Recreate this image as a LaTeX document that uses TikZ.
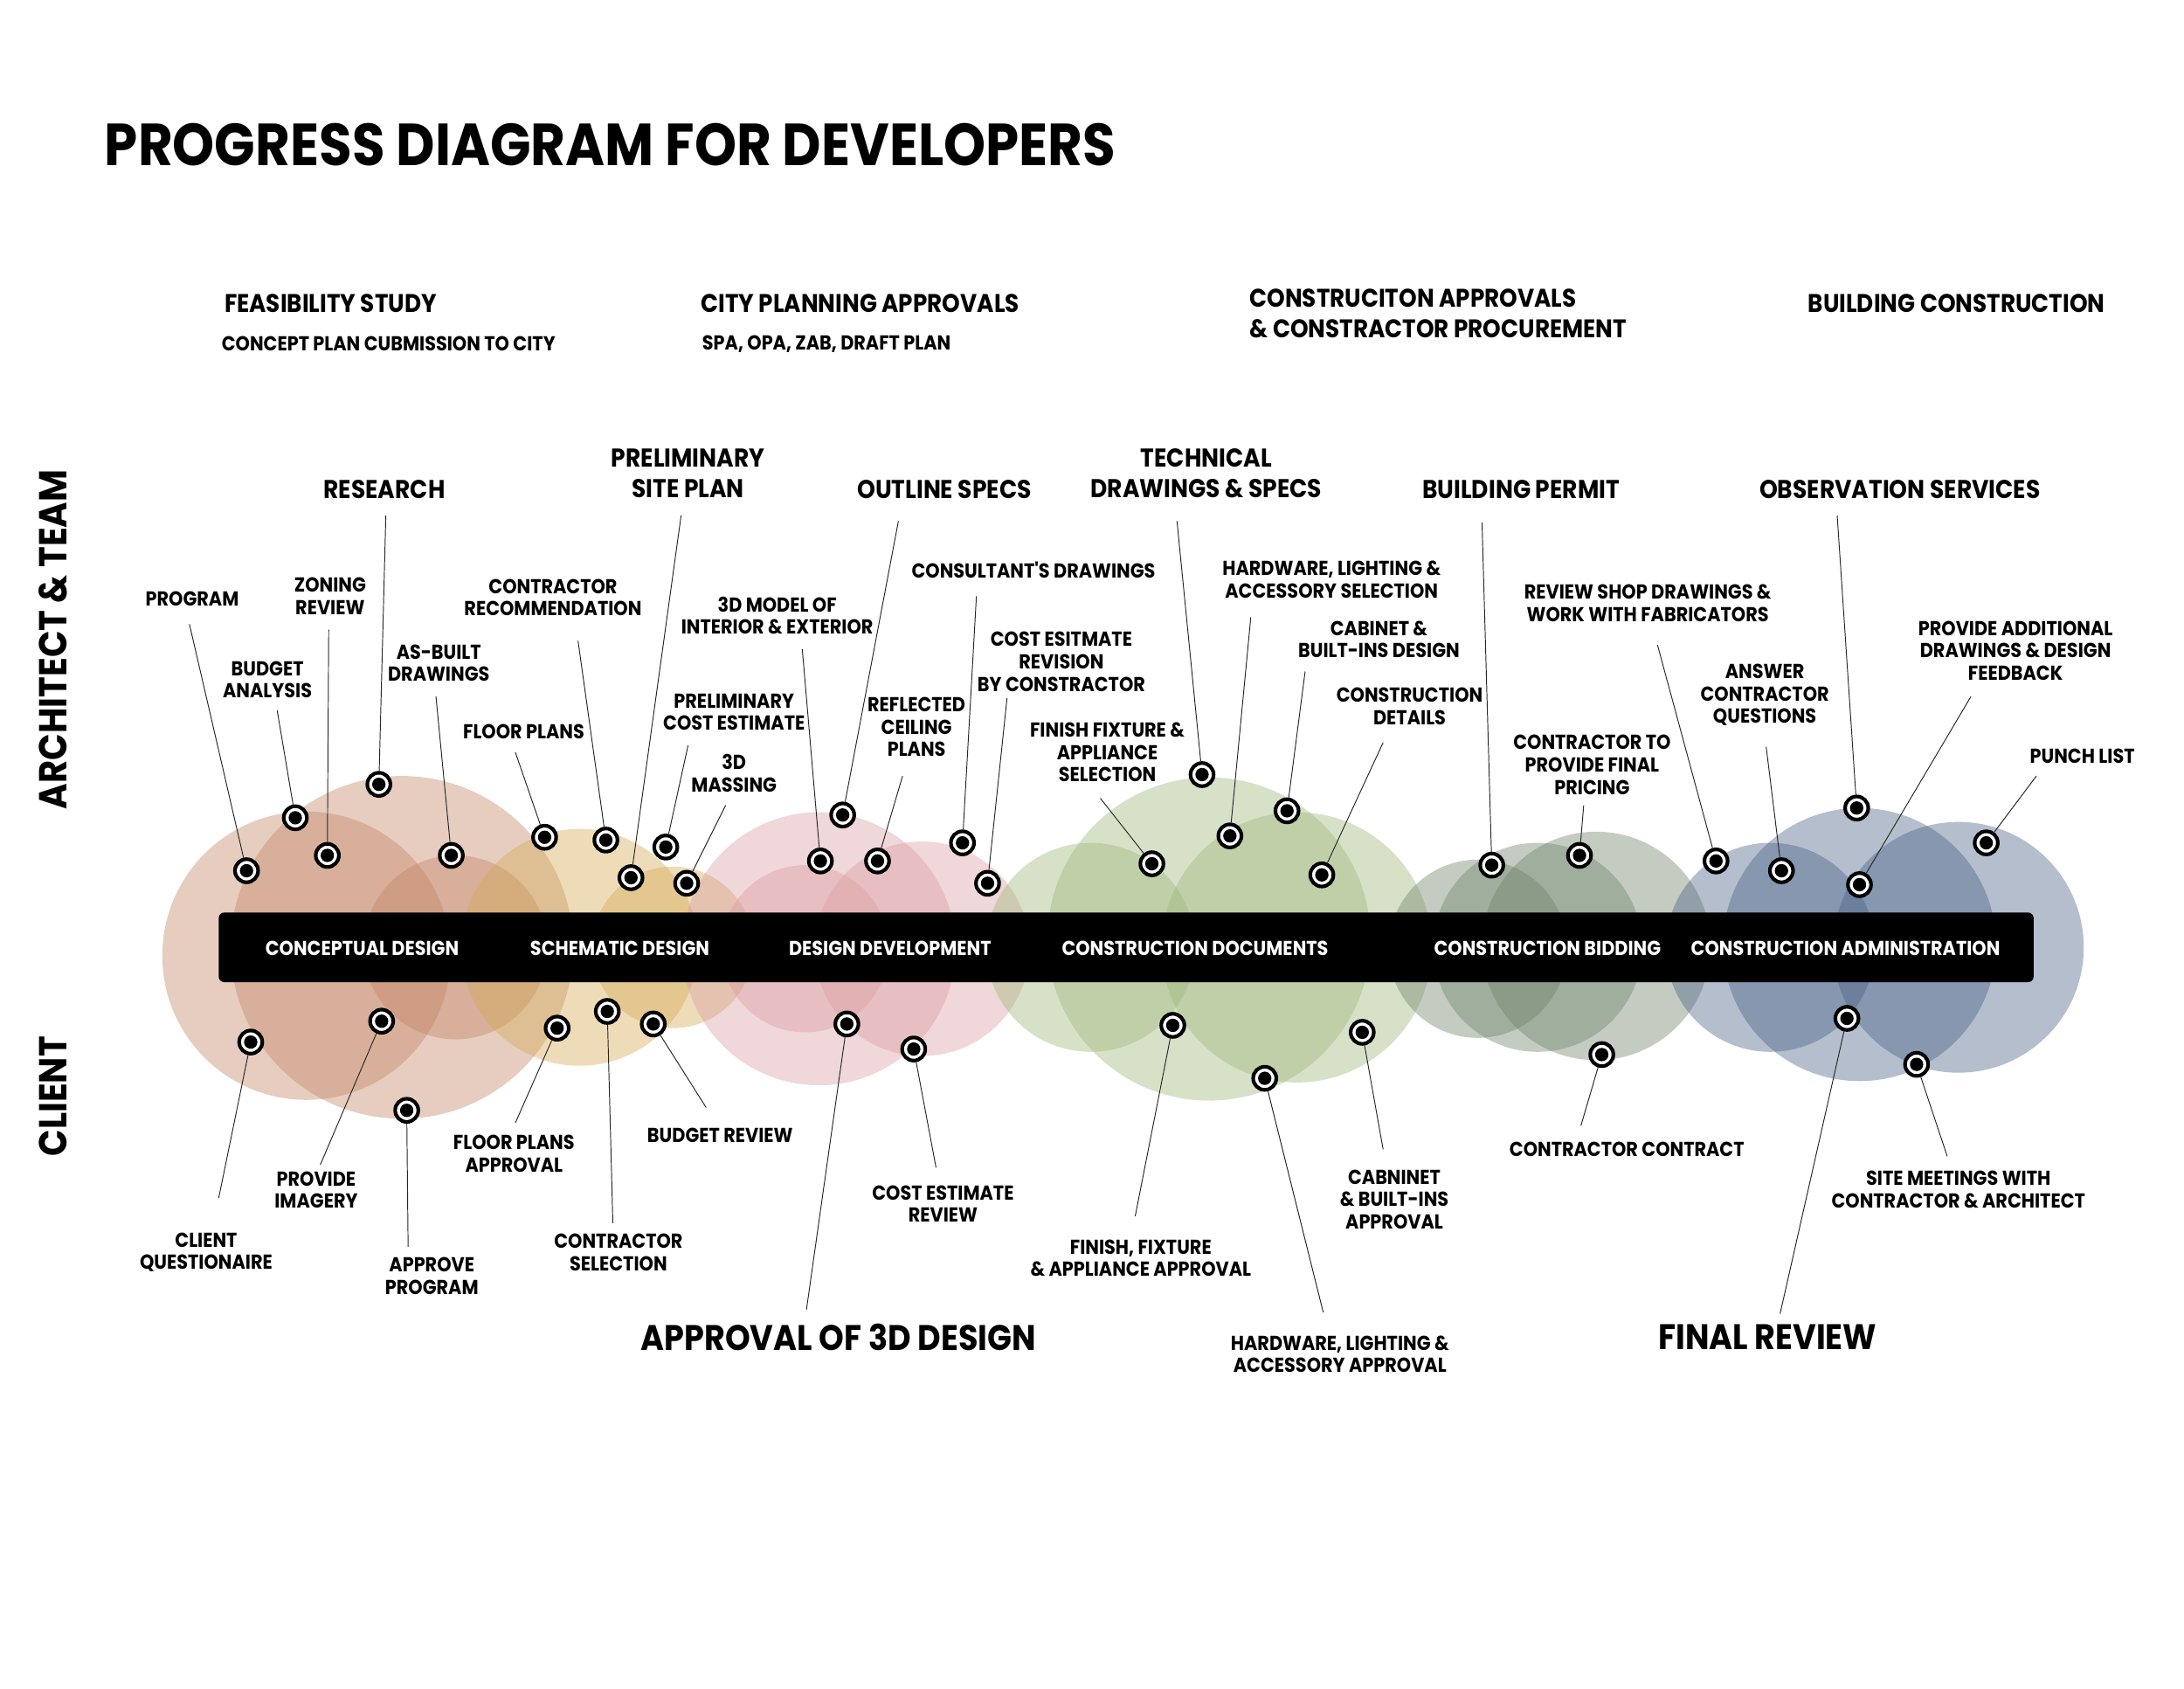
\documentclass[tikz,border=0pt]{standalone}
\usepackage{fontspec}
\newfontfamily\pf{Poppins}[FakeStretch=0.9]
\definecolor{cbr}{RGB}{193,130,97}
\definecolor{cye}{RGB}{212,168,80}
\definecolor{cpk}{RGB}{217,155,160}
\definecolor{cgr}{RGB}{155,180,117}
\definecolor{cgg}{RGB}{107,128,103}
\definecolor{cbl}{RGB}{67,92,130}
\tikzset{
  blob/.style={fill=#1, fill opacity=0.4, draw=none},
  mk/.style={circle, draw=black, line width=2.6pt, fill=white, minimum size=16.6pt, inner sep=0pt,
    path picture={\fill[black] (path picture bounding box.center) circle (4.8pt);}},
  lead/.style={draw=black!85, line width=0.6pt},
  lbl/.style={font=\pf\bfseries\fontsize{14.5}{16}\selectfont, align=center, inner sep=0pt},
  big/.style={font=\pf\bfseries\fontsize{18.5}{22}\selectfont, align=center, inner sep=0pt},
  huge/.style={font=\pf\bfseries\fontsize{25.5}{30}\selectfont, align=center, inner sep=0pt},
  side/.style={font=\pf\bfseries\fontsize{28}{32}\selectfont, inner sep=0pt, rotate=90},
  head/.style={font=\pf\bfseries\fontsize{18.3}{22}\selectfont, align=left, inner sep=0pt, anchor=west},
  sub/.style={font=\pf\bfseries\fontsize{14.5}{16}\selectfont, align=left, inner sep=0pt, anchor=west},
  barlbl/.style={font=\pf\bfseries\fontsize{14.5}{16}\selectfont, text=white, inner sep=0pt},
  barbox/.style={fill=black, rounded corners=4pt, minimum width=1303pt, minimum height=50pt, inner sep=0pt}
}
\begin{document}
\begin{tikzpicture}[x=1pt,y=-1pt]
\useasboundingbox (0,0) rectangle (1568,1212);
% ---------- circles ----------
\fill[blob=cbr] (220,686) circle (103.5pt);
\fill[blob=cbr] (288.5,680) circle (123pt);
\fill[blob=cbr] (327,680) circle (66pt);
\fill[blob=cye] (416,680) circle (85pt);
\fill[blob=cye] (483,680) circle (58pt);
\fill[blob=cpk] (588,681) circle (98pt);
\fill[blob=cpk] (662,681) circle (77pt);
\fill[blob=cpk] (578,681) circle (60pt);
\fill[blob=cgr] (783,680) circle (75pt);
\fill[blob=cgr] (868,674) circle (116pt);
\fill[blob=cgr] (931,680) circle (97pt);
\fill[blob=cgg] (1061,681) circle (64pt);
\fill[blob=cgg] (1104,680) circle (75pt);
\fill[blob=cgg] (1146,679) circle (82pt);
\fill[blob=cbl] (1271,680) circle (75pt);
\fill[blob=cbl] (1335,678) circle (98pt);
\fill[blob=cbl] (1406,680) circle (90pt);
% ---------- bar ----------
\node[barbox] (bar) at (808.5,680) {};
\node[barlbl] (p1) at (260,681) {CONCEPTUAL DESIGN};
\node[barlbl] (p2) at (445,681) {SCHEMATIC DESIGN};
\node[barlbl] (p3) at (639,681) {DESIGN DEVELOPMENT};
\node[barlbl] (p4) at (858,681) {CONSTRUCTION DOCUMENTS};
\node[barlbl] (p5) at (1111,681) {CONSTRUCTION BIDDING};
\node[barlbl] (p6) at (1325,681) {CONSTRUCTION ADMINISTRATION};
% ---------- markers and leaders ----------
\foreach \n/\dx/\dy/\ex/\ey in {
  1/177/625/136/448, 2/212/587/199/510, 3/235/614/236/452, 4/272/563/277/370,
  5/324/614/313/500, 6/391/601/370/540, 7/435/603/415/460, 8/453/630/489/370,
  9/478/608/494/535, 10/493/634/521/578, 11/589/618/576/466, 12/605/585/645/374,
  13/630/618/648/557, 14/691/605/701/428, 15/709/634/723/501, 16/827/620/790/573,
  17/863/556/845/374, 18/883/600/898/443, 19/924/582/937/482, 20/949/628/993/533,
  21/1071/621/1064/375, 22/1134/614/1137/578, 23/1232/618/1190/463, 24/1279/625/1268/536,
  25/1333/580/1319/370, 26/1335/635/1415/500, 27/1426/605/1462/557,
  28/180/748/157/860, 29/274/733/230/836, 30/292/797/293/895, 31/400/738/370/806,
  32/436/726/440/878, 33/469/735/507/795, 34/608/735/579/940, 35/656/753/672/838,
  36/842/736/815/873, 37/908/774/950/942, 38/978/741/993/825, 39/1150/757/1135/808,
  40/1326/731/1278/943, 41/1376/764/1398/830}
{
  \coordinate (e\n) at (\ex,\ey);
  \node[mk] (d\n) at (\dx,\dy) {};
  \draw[lead] (e\n) -- (d\n);
}
% ---------- header ----------
\node[font=\pf\bfseries\fontsize{42.6}{48}\selectfont, anchor=west, inner sep=0pt] (title) at (75,104) {PROGRESS DIAGRAM FOR DEVELOPERS};
\node[head] (h1) at (161,218) {FEASIBILITY STUDY};
\node[sub] (s1) at (159,247) {CONCEPT PLAN CUBMISSION TO CITY};
\node[head] (h2) at (503,218) {CITY PLANNING APPROVALS};
\node[sub] (s2) at (504,247) {SPA, OPA, ZAB, DRAFT PLAN};
\node[head] (h3) at (897,225) {CONSTRUCITON APPROVALS\\\& CONSTRACTOR PROCUREMENT};
\node[head] (h4) at (1298,218) {BUILDING CONSTRUCTION};
\node[side] (sa) at (38,459) {ARCHITECT \& TEAM};
\node[side] (sc) at (38,787) {CLIENT};
% ---------- top labels ----------
\node[big] (t4) at (276,351) {RESEARCH};
\node[big] (t8) at (494,340) {PRELIMINARY\\SITE PLAN};
\node[big] (t12) at (678,351) {OUTLINE SPECS};
\node[big] (t17) at (866,340) {TECHNICAL\\DRAWINGS \& SPECS};
\node[big] (t21) at (1092,351) {BUILDING PERMIT};
\node[big] (t25) at (1364,351) {OBSERVATION SERVICES};
\node[lbl] (t1) at (138,430) {PROGRAM};
\node[lbl] (t3) at (237,428) {ZONING\\REVIEW};
\node[lbl] (t2) at (192,488) {BUDGET\\ANALYSIS};
\node[lbl] (t5) at (315,476) {AS-BUILT\\DRAWINGS};
\node[lbl] (t7) at (397,429) {CONTRACTOR\\RECOMMENDATION};
\node[lbl] (t6) at (376,525) {FLOOR PLANS};
\node[lbl] (t11) at (558,442) {3D MODEL OF\\INTERIOR \& EXTERIOR};
\node[lbl] (t9) at (527,511) {PRELIMINARY\\COST ESTIMATE};
\node[lbl] (t10) at (527,555) {3D\\MASSING};
\node[lbl] (t13) at (658,522) {REFLECTED\\CEILING\\PLANS};
\node[lbl] (t14) at (742,409) {CONSULTANT'S DRAWINGS};
\node[lbl] (t15) at (762,475) {COST ESITMATE\\REVISION\\BY CONSTRACTOR};
\node[lbl] (t16) at (795,540) {FINISH FIXTURE \&\\APPLIANCE\\SELECTION};
\node[lbl] (t18) at (956,416) {HARDWARE, LIGHTING \&\\ACCESSORY SELECTION};
\node[lbl] (t19) at (990,459) {CABINET \&\\BUILT-INS DESIGN};
\node[lbl] (t20) at (1012,507) {CONSTRUCTION\\DETAILS};
\node[lbl] (t23) at (1183,433) {REVIEW SHOP DRAWINGS \&\\WORK WITH FABRICATORS};
\node[lbl] (t22) at (1143,549) {CONTRACTOR TO\\PROVIDE FINAL\\PRICING};
\node[lbl] (t24) at (1267,499) {ANSWER\\CONTRACTOR\\QUESTIONS};
\node[lbl] (t26) at (1447,467) {PROVIDE ADDITIONAL\\DRAWINGS \& DESIGN\\FEEDBACK};
\node[lbl] (t27) at (1495,543) {PUNCH LIST};
% ---------- bottom labels ----------
\node[lbl] (t28) at (148,899) {CLIENT\\QUESTIONAIRE};
\node[lbl] (t29) at (227,854) {PROVIDE\\IMAGERY};
\node[lbl] (t30) at (310,916) {APPROVE\\PROGRAM};
\node[lbl] (t31) at (369,828) {FLOOR PLANS\\APPROVAL};
\node[lbl] (t32) at (444,899) {CONTRACTOR\\SELECTION};
\node[lbl] (t33) at (517,815) {BUDGET REVIEW};
\node[huge] (t34) at (602,960) {APPROVAL OF 3D DESIGN};
\node[lbl] (t35) at (677,864) {COST ESTIMATE\\REVIEW};
\node[lbl] (t36) at (819,903) {FINISH, FIXTURE\\\& APPLIANCE APPROVAL};
\node[lbl] (t37) at (962,972) {HARDWARE, LIGHTING \&\\ACCESSORY APPROVAL};
\node[lbl] (t38) at (1001,861) {CABNINET\\\& BUILT-INS\\APPROVAL};
\node[lbl] (t39) at (1168,825) {CONTRACTOR CONTRACT};
\node[huge] (t40) at (1269,960) {FINAL REVIEW};
\node[lbl] (t41) at (1406,854) {SITE MEETINGS WITH\\CONTRACTOR \& ARCHITECT};
\end{tikzpicture}
\end{document}
